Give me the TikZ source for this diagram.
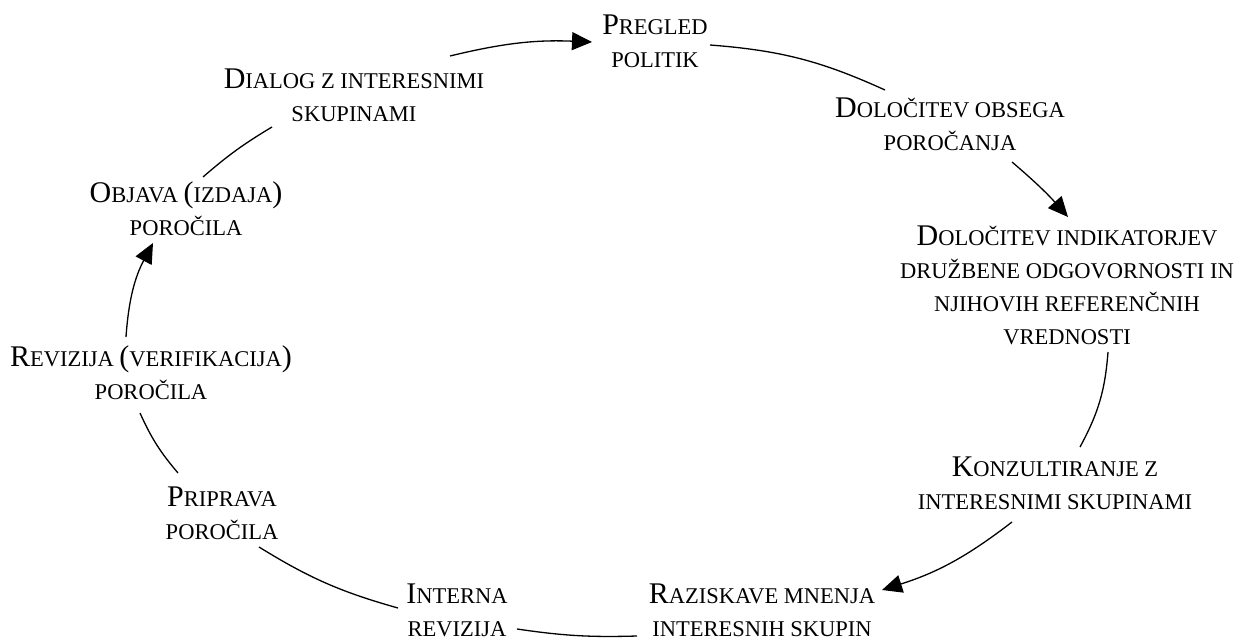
\documentclass[tikz,border=0pt]{standalone}
\usepackage{fontspec}
\setmainfont{Liberation Serif}
\usetikzlibrary{arrows.meta}

\newcommand{\sm}[1]{{\fontsize{22.5}{33}\selectfont #1}}
\tikzset{
  stage/.style={align=center, inner sep=2pt, font=\fontsize{30}{33}\selectfont},
  link/.style={line width=1.3pt, bend left=#1},
  link/.default=8,
  flow/.style={link=#1, -{Triangle[length=20pt,width=18pt]}},
  flow/.default=8
}

\begin{document}
\begin{tikzpicture}[x=1pt, y=1pt]
    \useasboundingbox[fill=white] (0,0) rectangle (1240,-642);

    % stages of the cycle
    \node[stage] (pregled)  at (655,-41)  {P\sm{REGLED}\\\sm{POLITIK}};
    \node[stage] (obseg)    at (950,-124) {D\sm{OLOČITEV OBSEGA}\\\sm{POROČANJA}};
    \node[stage] (indik)    at (1067,-285) {D\sm{OLOČITEV INDIKATORJEV}\\\sm{DRUŽBENE ODGOVORNOSTI IN}\\\sm{NJIHOVIH REFERENČNIH}\\\sm{VREDNOSTI}};
    \node[stage] (konzult)  at (1055,-483) {K\sm{ONZULTIRANJE Z}\\\sm{INTERESNIMI SKUPINAMI}};
    \node[stage] (raziskave) at (762,-610) {R\sm{AZISKAVE MNENJA}\\\sm{INTERESNIH SKUPIN}};
    \node[stage] (interna)  at (457,-610) {I\sm{NTERNA}\\\sm{REVIZIJA}};
    \node[stage] (priprava) at (222,-513) {P\sm{RIPRAVA}\\\sm{POROČILA}};
    \node[stage] (revizija) at (151,-373) {R\sm{EVIZIJA }(\sm{VERIFIKACIJA})\\\sm{POROČILA}};
    \node[stage] (objava)   at (186,-209) {O\sm{BJAVA }(\sm{IZDAJA})\\\sm{POROČILA}};
    \node[stage] (dialog)   at (354,-95)  {D\sm{IALOG Z INTERESNIMI}\\\sm{SKUPINAMI}};

    % arcs between the stages
    \draw[flow=8]  ([shift={(96,39)}]dialog.center)     to ([shift={(-63,-1)}]pregled.center);
    \draw[link=10] ([shift={(55,-4)}]pregled.center)    to ([shift={(-65,34)}]obseg.center);
    \draw[flow=4]  ([shift={(62,-38)}]obseg.center)     to ([shift={(1,68)}]indik.center);
    \draw[link=12] ([shift={(41,-67)}]indik.center)     to ([shift={(25,36)}]konzult.center);
    \draw[flow=10] ([shift={(-43,-39)}]konzult.center)  to ([shift={(120,20)}]raziskave.center);
    \draw[link=5]  ([shift={(-125,-26)}]raziskave.center) to ([shift={(60,-19)}]interna.center);
    \draw[link=8]  ([shift={(-59,2)}]interna.center)    to ([shift={(37,-34)}]priprava.center);
    \draw[link=8]  ([shift={(-44,40)}]priprava.center)  to ([shift={(-11,-40)}]revizija.center);
    \draw[flow=12] ([shift={(-25,36)}]revizija.center)  to ([shift={(-33,-34)}]objava.center);
    \draw[link=5]  ([shift={(17,32)}]objava.center)     to ([shift={(-82,-32)}]dialog.center);
\end{tikzpicture}
\end{document}
